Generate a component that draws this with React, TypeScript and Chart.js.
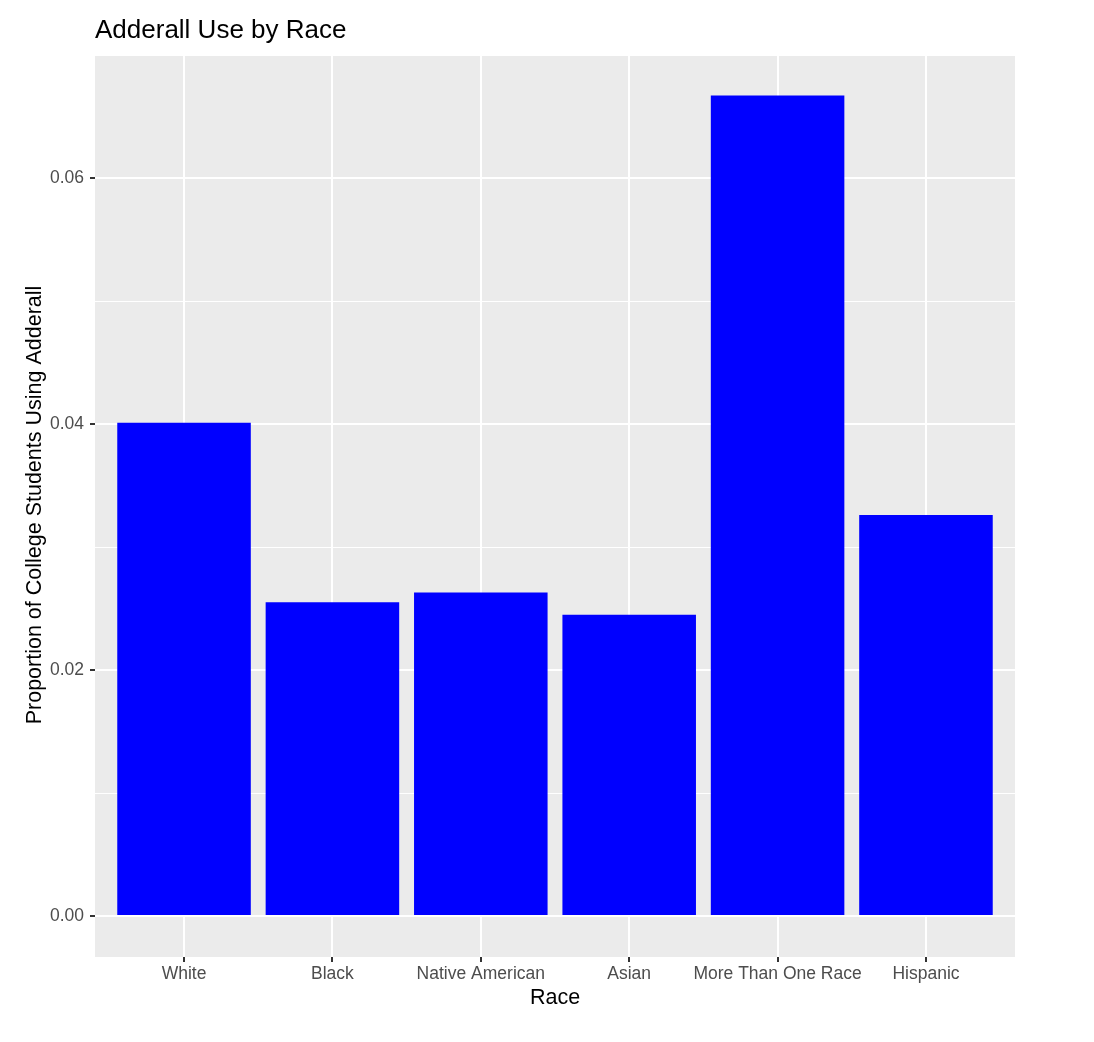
import React, { useEffect, useRef } from "react";
import { Chart, registerables } from "chart.js";

Chart.register(...registerables);

const categories = ["White", "Black", "Native American", "Asian", "More Than One Race", "Hispanic"];
const proportions = [0.0401, 0.0255, 0.0263, 0.0245, 0.0667, 0.0326];
const yTickValues = [0, 0.01, 0.02, 0.03, 0.04, 0.05, 0.06, 0.07];
const yMajorTicks = [0, 0.02, 0.04, 0.06];
const titleText = "Adderall Use by Race";
const xTitleText = "Race";
const yTitleText = "Proportion of College Students Using Adderall";

const FONT = "'Liberation Sans', Arial, Helvetica, sans-serif";
const W = 1094;
const H = 1042;
const PANEL = { left: 95, right: 1015, top: 55, bottom: 957 };

const isMajor = (v: number) => yMajorTicks.some((m) => Math.abs(m - v) < 1e-9);

export default function App() {
  const ref = useRef<HTMLCanvasElement | null>(null);

  useEffect(() => {
    document.body.style.margin = "0";
    const canvas = ref.current;
    if (!canvas) return;

    const textPlugin = {
      id: "ggText",
      beforeDraw(chart: any) {
        const { ctx, chartArea } = chart;
        ctx.save();
        ctx.fillStyle = "#FFFFFF";
        ctx.fillRect(0, 0, chart.width, chart.height);
        ctx.fillStyle = "#EBEBEB";
        ctx.fillRect(chartArea.left, chartArea.top, chartArea.right - chartArea.left, chartArea.bottom - chartArea.top);
        ctx.restore();
      },
      afterDraw(chart: any) {
        const { ctx, chartArea } = chart;
        ctx.save();
        ctx.fillStyle = "#000000";
        ctx.font = `26px ${FONT}`;
        ctx.textAlign = "left";
        ctx.textBaseline = "alphabetic";
        ctx.fillText(titleText, chartArea.left, 38);

        ctx.font = `21.5px ${FONT}`;
        ctx.textAlign = "center";
        ctx.textBaseline = "middle";
        ctx.fillText(xTitleText, (chartArea.left + chartArea.right) / 2, 998);

        ctx.translate(35, (chartArea.top + chartArea.bottom) / 2 - 1);
        ctx.rotate(-Math.PI / 2);
        ctx.fillText(yTitleText, 0, 0);
        ctx.restore();
      },
    };

    const chart = new Chart(canvas, {
      type: "bar",
      data: {
        datasets: [
          {
            data: proportions.map((v, i) => ({ x: i, y: v })),
            backgroundColor: "#0000FF",
            borderWidth: 0,
            barPercentage: 0.9,
            categoryPercentage: 1.0,
          },
        ],
      },
      options: {
        animation: false,
        responsive: false,
        maintainAspectRatio: false,
        layout: { padding: { top: PANEL.top, left: 0, right: W - PANEL.right, bottom: 0 } },
        plugins: {
          legend: { display: false },
          title: { display: false },
          tooltip: { enabled: false },
        },
        scales: {
          x: {
            type: "linear",
            min: -0.6,
            max: categories.length - 1 + 0.6,
            offset: false,
            afterBuildTicks: (scale: any) => {
              scale.ticks = categories.map((_, i) => ({ value: i }));
            },
            afterFit: (scale: any) => {
              scale.height = H - PANEL.bottom;
            },
            border: { display: false },
            grid: {
              offset: false,
              color: "#FFFFFF",
              lineWidth: 2,
              drawTicks: true,
              tickLength: 5,
              tickColor: "#333333",
              tickWidth: 2,
            },
            ticks: {
              autoSkip: false,
              maxRotation: 0,
              padding: 2,
              color: "#4D4D4D",
              font: { family: FONT, size: 17.5 },
              callback: (v: any) => categories[Math.round(Number(v))] ?? "",
            },
          },
          y: {
            type: "linear",
            min: -0.00333,
            max: 0.07,
            afterBuildTicks: (scale: any) => {
              scale.ticks = yTickValues.map((v) => ({ value: v }));
            },
            afterFit: (scale: any) => {
              scale.width = PANEL.left;
            },
            border: { display: false },
            grid: {
              color: "#FFFFFF",
              lineWidth: (c: any) => (isMajor(c.tick?.value) ? 2 : 1),
              drawTicks: true,
              tickLength: 5,
              tickColor: (c: any) => (isMajor(c.tick?.value) ? "#333333" : "rgba(0,0,0,0)"),
              tickWidth: 2,
            },
            ticks: {
              autoSkip: false,
              padding: 6,
              color: "#4D4D4D",
              font: { family: FONT, size: 17.5 },
              callback: (v: any) => (isMajor(Number(v)) ? Number(v).toFixed(2) : ""),
            },
          },
        },
      },
      plugins: [textPlugin],
    } as any);

    return () => chart.destroy();
  }, []);

  return (
    <div style={{ width: W, height: H }}>
      <canvas ref={ref} width={W} height={H} style={{ display: "block", width: W, height: H }} />
    </div>
  );
}
